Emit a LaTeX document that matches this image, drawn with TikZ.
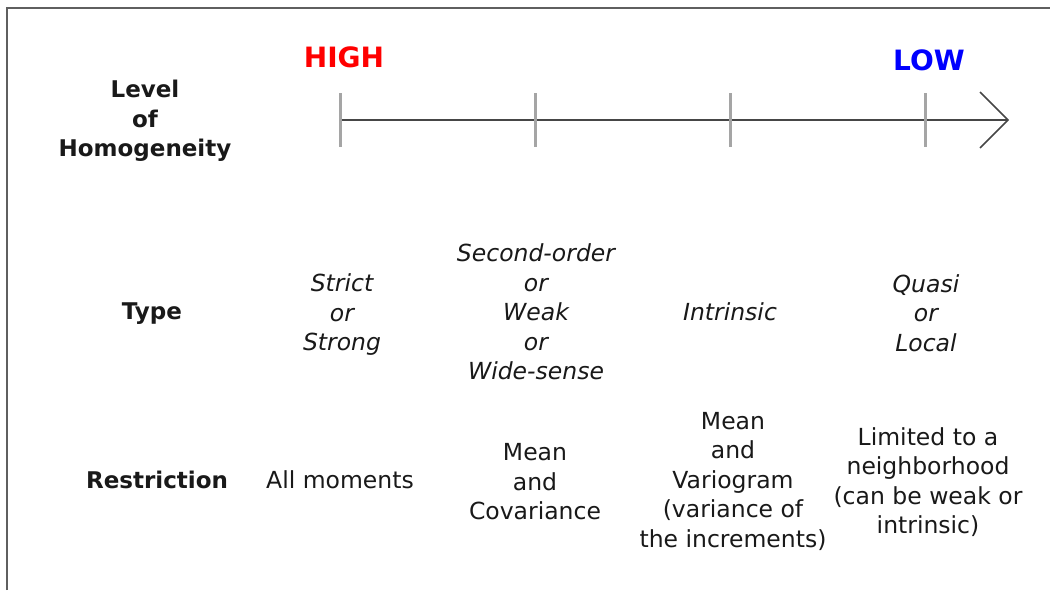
\documentclass[tikz,border=0pt]{standalone}
\usepackage{fontspec}
\setmainfont{DejaVu Sans}
\usetikzlibrary{arrows.meta,calc}
\definecolor{txt}{RGB}{25,25,25}
\definecolor{frame}{RGB}{95,95,95}
\definecolor{axis}{RGB}{70,70,70}
\definecolor{tick}{RGB}{165,165,165}
\begin{document}
\begin{tikzpicture}[x=1pt,y=-1pt,
  lbl/.style={font=\fontsize{23}{29.5}\selectfont\bfseries, text=txt, align=center, inner sep=0pt},
  typ/.style={font=\fontsize{23.5}{29.5}\selectfont\itshape, text=txt, align=center, inner sep=0pt},
  rst/.style={font=\fontsize{23.5}{29.5}\selectfont, text=txt, align=center, inner sep=0pt},
  lvl/.style={font=\fontsize{28}{30}\selectfont\bfseries, inner sep=0pt},
  tickline/.style={draw=tick, line width=3pt},
  axisline/.style={draw=axis, line width=1.6pt}]
\useasboundingbox (0,0) rectangle (1050,590);
\fill[white] (0,0) rectangle (1050,590);
% frame
\draw[frame, line width=2pt] (7,590) -- (7,8) -- (1050,8);
% axis
\coordinate (a0) at (340,120);
\coordinate (a1) at (1008,120);
\draw[axisline] (a0) -- (a1);
\draw[axisline, line join=miter] ($(a1)+(-28,-28)$) -- (a1) -- ($(a1)+(-28,28)$);
\foreach \x/\n in {340/t1,535/t2,730/t3,925/t4}{
  \coordinate (\n a) at (\x,93);
  \coordinate (\n b) at (\x,147);
  \draw[tickline] (\n a) -- (\n b);
}
% level labels
\node[lvl, text={rgb,255:red,255;green,0;blue,0}] (high) at (344,57) {HIGH};
\node[lvl, text={rgb,255:red,0;green,0;blue,255}] (low) at (929,60) {LOW};
% row labels
\node[lbl] (level) at (145,121) {Level\\of\\Homogeneity};
\node[lbl] (type) at (152,314) {Type};
\node[lbl] (restr) at (157,480) {Restriction};
% type row
\node[typ] (ty1) at (342,315) {Strict\\or\\Strong};
\node[typ] (ty2) at (536,312) {Second-order\\or\\Weak\\or\\Wide-sense};
\node[typ] (ty3) at (730,312) {Intrinsic};
\node[typ] (ty4) at (926,313) {Quasi\\or\\Local};
% restriction row
\node[rst] (r1) at (340,480) {All moments};
\node[rst] (r2) at (535,482) {Mean\\and\\Covariance};
\node[rst] (r3) at (733,481) {Mean\\and\\Variogram\\(variance of\\the increments)};
\node[rst] (r4) at (928,482) {Limited to a\\neighborhood\\(can be weak or\\intrinsic)};
\end{tikzpicture}
\end{document}
